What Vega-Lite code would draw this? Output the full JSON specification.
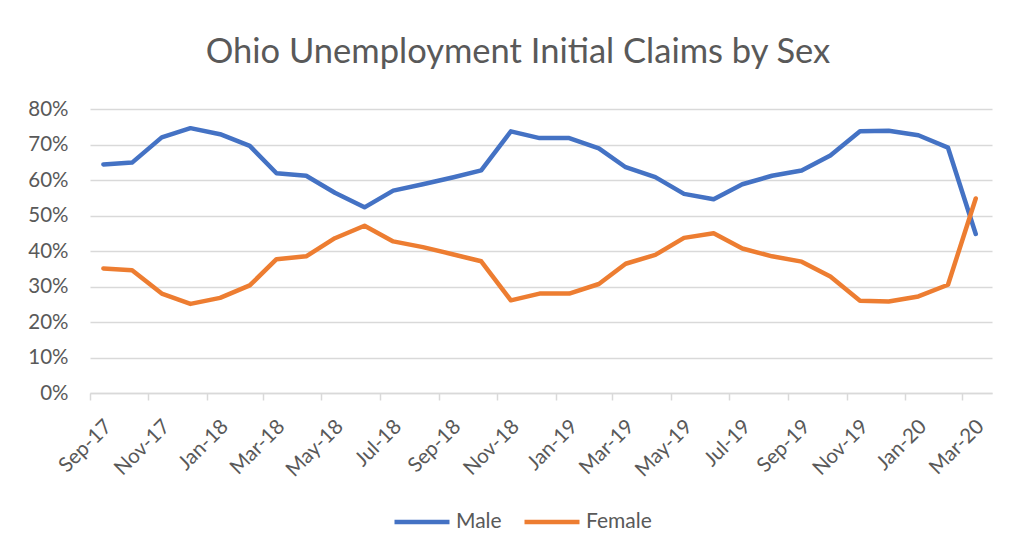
{
  "$schema": "https://vega.github.io/schema/vega-lite/v6.json",
  "width": 902,
  "height": 284,
  "autosize": {"type": "none"},
  "padding": {"left": 90, "top": 109, "right": 23, "bottom": 161},
  "background": "white",
  "title": {
    "text": "Ohio Unemployment Initial Claims by Sex",
    "font": "Lato",
    "fontSize": 34.5,
    "fontWeight": "normal",
    "color": "#595959",
    "anchor": "middle",
    "baseline": "alphabetic",
    "offset": 2,
    "dx": -23
  },
  "data": {
    "values": [
      {"month": "2017-09-15", "sex": "Male", "share": 0.644},
      {"month": "2017-10-15", "sex": "Male", "share": 0.649},
      {"month": "2017-11-15", "sex": "Male", "share": 0.720},
      {"month": "2017-12-15", "sex": "Male", "share": 0.746},
      {"month": "2018-01-15", "sex": "Male", "share": 0.729},
      {"month": "2018-02-15", "sex": "Male", "share": 0.696},
      {"month": "2018-03-15", "sex": "Male", "share": 0.619},
      {"month": "2018-04-15", "sex": "Male", "share": 0.612},
      {"month": "2018-05-15", "sex": "Male", "share": 0.564},
      {"month": "2018-06-15", "sex": "Male", "share": 0.523},
      {"month": "2018-07-15", "sex": "Male", "share": 0.570},
      {"month": "2018-08-15", "sex": "Male", "share": 0.588},
      {"month": "2018-09-15", "sex": "Male", "share": 0.607},
      {"month": "2018-10-15", "sex": "Male", "share": 0.627},
      {"month": "2018-11-15", "sex": "Male", "share": 0.737},
      {"month": "2018-12-15", "sex": "Male", "share": 0.718},
      {"month": "2019-01-15", "sex": "Male", "share": 0.718},
      {"month": "2019-02-15", "sex": "Male", "share": 0.689},
      {"month": "2019-03-15", "sex": "Male", "share": 0.636},
      {"month": "2019-04-15", "sex": "Male", "share": 0.608},
      {"month": "2019-05-15", "sex": "Male", "share": 0.561},
      {"month": "2019-06-15", "sex": "Male", "share": 0.546},
      {"month": "2019-07-15", "sex": "Male", "share": 0.588},
      {"month": "2019-08-15", "sex": "Male", "share": 0.612},
      {"month": "2019-09-15", "sex": "Male", "share": 0.627},
      {"month": "2019-10-15", "sex": "Male", "share": 0.669},
      {"month": "2019-11-15", "sex": "Male", "share": 0.737},
      {"month": "2019-12-15", "sex": "Male", "share": 0.739},
      {"month": "2020-01-15", "sex": "Male", "share": 0.726},
      {"month": "2020-02-15", "sex": "Male", "share": 0.691},
      {"month": "2020-03-15", "sex": "Male", "share": 0.448},
      {"month": "2017-09-15", "sex": "Female", "share": 0.351},
      {"month": "2017-10-15", "sex": "Female", "share": 0.346},
      {"month": "2017-11-15", "sex": "Female", "share": 0.280},
      {"month": "2017-12-15", "sex": "Female", "share": 0.251},
      {"month": "2018-01-15", "sex": "Female", "share": 0.268},
      {"month": "2018-02-15", "sex": "Female", "share": 0.303},
      {"month": "2018-03-15", "sex": "Female", "share": 0.377},
      {"month": "2018-04-15", "sex": "Female", "share": 0.385},
      {"month": "2018-05-15", "sex": "Female", "share": 0.436},
      {"month": "2018-06-15", "sex": "Female", "share": 0.471},
      {"month": "2018-07-15", "sex": "Female", "share": 0.427},
      {"month": "2018-08-15", "sex": "Female", "share": 0.411},
      {"month": "2018-09-15", "sex": "Female", "share": 0.391},
      {"month": "2018-10-15", "sex": "Female", "share": 0.371},
      {"month": "2018-11-15", "sex": "Female", "share": 0.261},
      {"month": "2018-12-15", "sex": "Female", "share": 0.280},
      {"month": "2019-01-15", "sex": "Female", "share": 0.280},
      {"month": "2019-02-15", "sex": "Female", "share": 0.307},
      {"month": "2019-03-15", "sex": "Female", "share": 0.364},
      {"month": "2019-04-15", "sex": "Female", "share": 0.389},
      {"month": "2019-05-15", "sex": "Female", "share": 0.437},
      {"month": "2019-06-15", "sex": "Female", "share": 0.450},
      {"month": "2019-07-15", "sex": "Female", "share": 0.407},
      {"month": "2019-08-15", "sex": "Female", "share": 0.385},
      {"month": "2019-09-15", "sex": "Female", "share": 0.370},
      {"month": "2019-10-15", "sex": "Female", "share": 0.328},
      {"month": "2019-11-15", "sex": "Female", "share": 0.260},
      {"month": "2019-12-15", "sex": "Female", "share": 0.258},
      {"month": "2020-01-15", "sex": "Female", "share": 0.272},
      {"month": "2020-02-15", "sex": "Female", "share": 0.305},
      {"month": "2020-03-15", "sex": "Female", "share": 0.548}
    ],
    "format": {"parse": {"month": "date:'%Y-%m-%d'"}}
  },
  "mark": {"type": "line", "strokeWidth": 4.5, "strokeCap": "round", "strokeJoin": "round"},
  "encoding": {
    "x": {
      "field": "month",
      "type": "temporal",
      "scale": {"domain": [{"year": 2017, "month": 9, "date": 1}, {"year": 2020, "month": 4, "date": 1}]},
      "axis": {
        "title": null,
        "values": [
          {"year": 2017, "month": 9, "date": 1}, {"year": 2017, "month": 11, "date": 1},
          {"year": 2018, "month": 1, "date": 1}, {"year": 2018, "month": 3, "date": 1},
          {"year": 2018, "month": 5, "date": 1}, {"year": 2018, "month": 7, "date": 1},
          {"year": 2018, "month": 9, "date": 1}, {"year": 2018, "month": 11, "date": 1},
          {"year": 2019, "month": 1, "date": 1}, {"year": 2019, "month": 3, "date": 1},
          {"year": 2019, "month": 5, "date": 1}, {"year": 2019, "month": 7, "date": 1},
          {"year": 2019, "month": 9, "date": 1}, {"year": 2019, "month": 11, "date": 1},
          {"year": 2020, "month": 1, "date": 1}, {"year": 2020, "month": 3, "date": 1}
        ],
        "format": "%b-%y",
        "labelAngle": -45,
        "labelOffset": 11,
        "labelFont": "Lato",
        "labelFontSize": 20.5,
        "labelColor": "#595959",
        "labelPadding": 16,
        "grid": false,
        "domainColor": "#d9d9d9",
        "domainWidth": 1.5,
        "tickColor": "#d9d9d9",
        "tickWidth": 1.5,
        "tickSize": 7,
        "labelOverlap": false,
        "labelFlush": false
      }
    },
    "y": {
      "field": "share",
      "type": "quantitative",
      "scale": {"domain": [0, 0.8]},
      "axis": {
        "title": null,
        "values": [0, 0.1, 0.2, 0.3, 0.4, 0.5, 0.6, 0.7, 0.8],
        "format": ".0%",
        "labelFont": "Lato",
        "labelFontSize": 20.5,
        "labelColor": "#595959",
        "labelPadding": 22,
        "ticks": false,
        "domain": false,
        "grid": true,
        "gridColor": "#d9d9d9",
        "gridWidth": 1.5
      }
    },
    "color": {
      "field": "sex",
      "type": "nominal",
      "scale": {"domain": ["Male", "Female"], "range": ["#4472C4", "#ED7D31"]},
      "legend": {
        "title": null,
        "orient": "none",
        "direction": "horizontal",
        "legendX": 302,
        "legendY": 383,
        "symbolType": "stroke",
        "symbolSize": 3025,
        "symbolStrokeWidth": 4.5,
        "labelFont": "Lato",
        "labelFontSize": 21,
        "labelColor": "#595959",
        "labelOffset": 4,
        "columnPadding": 13
      }
    }
  },
  "config": {"view": {"stroke": null}}
}
